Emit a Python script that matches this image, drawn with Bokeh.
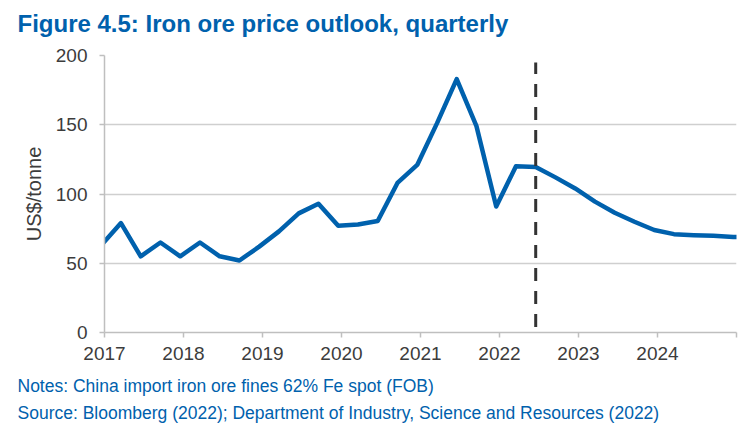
from bokeh.plotting import figure
from bokeh.models import Range1d, FixedTicker, Title
from bokeh.embed import file_html
from bokeh.resources import INLINE

# ---- data ----
quarters = ["2016-Q4",
            "2017-Q1", "2017-Q2", "2017-Q3", "2017-Q4",
            "2018-Q1", "2018-Q2", "2018-Q3", "2018-Q4",
            "2019-Q1", "2019-Q2", "2019-Q3", "2019-Q4",
            "2020-Q1", "2020-Q2", "2020-Q3", "2020-Q4",
            "2021-Q1", "2021-Q2", "2021-Q3", "2021-Q4",
            "2022-Q1", "2022-Q2", "2022-Q3", "2022-Q4",
            "2023-Q1", "2023-Q2", "2023-Q3", "2023-Q4",
            "2024-Q1", "2024-Q2", "2024-Q3", "2024-Q4",
            "2025-Q1"]
price = [63,
         79, 55, 65, 55,
         65, 55, 52, 62,
         73, 86, 93, 77,
         78, 80.5, 108, 121,
         151, 183, 149, 91,
         120, 119.5, 112, 104,
         94.5, 86.5, 80, 74,
         71, 70.3, 69.8, 69,
         68.3]
forecast_start = "2022-Q2"
divider_span = [4, 195]
year_ticks = [2017, 2018, 2019, 2020, 2021, 2022, 2023, 2024, 2025]
year_labels = ["2017", "2018", "2019", "2020", "2021", "2022", "2023", "2024", ""]
y_ticks = [0, 50, 100, 150, 200]

title_text = "Figure 4.5: Iron ore price outlook, quarterly"
notes_text = "Notes: China import iron ore fines 62% Fe spot (FOB)"
source_text = "Source: Bloomberg (2022); Department of Industry, Science and Resources (2022)"


def q_to_x(q):
    yr, qq = q.split("-Q")
    # placed at the middle of the quarter's last month
    return int(yr) + (3 * int(qq) - 0.5) / 12.0


xs = [q_to_x(q) for q in quarters]
x_div = q_to_x(forecast_start)

BLUE = "#0061AD"
TEXT = "#3c3c3c"
FONT = "Liberation Sans"

p = figure(width=755, height=434, output_backend="svg", toolbar_location=None,
           x_range=Range1d(2017, 2025), y_range=Range1d(0, 200),
           min_border_left=104, min_border_right=19,
           min_border_top=55, min_border_bottom=102)
p.outline_line_color = None
p.background_fill_color = "white"
p.border_fill_color = "white"

# grid
p.xgrid.grid_line_color = None
p.ygrid.grid_line_color = "#CFCFCF"
p.ygrid.grid_line_width = 1.5
p.ygrid.ticker = FixedTicker(ticks=y_ticks)

# axes
for ax in (p.xaxis[0], p.yaxis[0]):
    ax.axis_line_color = "#BFBFBF"
    ax.axis_line_width = 1.5
    ax.major_tick_line_color = "#BFBFBF"
    ax.major_tick_line_width = 1.5
    ax.major_tick_in = 0
    ax.major_tick_out = 5
    ax.minor_tick_line_color = None
    ax.major_label_text_font = FONT
    ax.major_label_text_font_size = "19px"
    ax.major_label_text_color = TEXT

p.xaxis.ticker = FixedTicker(ticks=year_ticks)
p.xaxis.major_label_overrides = {t: l for t, l in zip(year_ticks, year_labels)}
p.xaxis.major_label_standoff = 9

p.yaxis.ticker = FixedTicker(ticks=y_ticks)
p.yaxis.major_label_overrides = {t: str(t) for t in y_ticks}
p.yaxis.major_label_standoff = 12
p.yaxis.axis_label = "US$/tonne"
p.yaxis.axis_label_text_font = FONT
p.yaxis.axis_label_text_font_size = "20px"
p.yaxis.axis_label_text_font_style = "normal"
p.yaxis.axis_label_text_color = TEXT
p.yaxis.axis_label_standoff = 8

# series
p.line(xs, price, line_color=BLUE, line_width=4.5, line_join="round")
p.line([x_div, x_div], divider_span, line_color="#333333", line_width=3,
       line_dash="13 10")

# texts
title_style = dict(text=title_text, text_font=FONT, text_font_size="24px",
                   text_font_style="bold", text_color=BLUE, align="left",
                   offset=-87)
try:
    ttl = Title(standoff=0, padding=dict(left=0, right=0, top=0, bottom=19),
                **title_style)
except Exception:
    ttl = Title(standoff=19, **title_style)
p.title = ttl
p.add_layout(Title(text=notes_text + "\n" + source_text, text_font=FONT,
                   text_font_size="17.5px", text_font_style="normal",
                   text_color=BLUE, align="left", text_line_height=1.38,
                   offset=-87, standoff=22), "below")

open("out.html", "w").write(file_html(p, INLINE))
